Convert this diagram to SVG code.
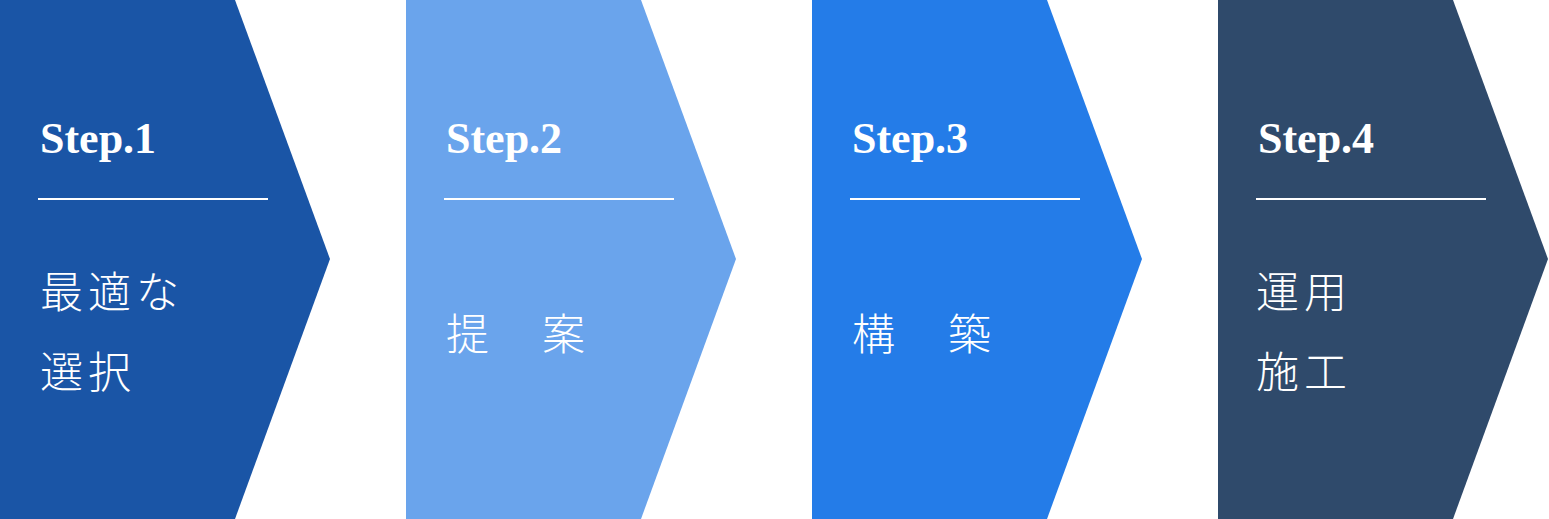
<svg xmlns="http://www.w3.org/2000/svg" width="1549" height="519" viewBox="0 0 1549 519">
<style>
.step{font-family:"Liberation Serif","DejaVu Serif",serif;font-weight:bold;font-size:44px;fill:#fff}
.jp{font-family:"Noto Sans CJK JP","Noto Sans CJK SC",sans-serif;font-weight:300;font-size:43px;fill:#fff;letter-spacing:5px}
.rule{stroke:#fff;stroke-width:2}
</style>
<rect width="1549" height="519" fill="#fff"/>
<g id="step1">
<polygon points="0,0 235,0 330,259 235,519 0,519" fill="#1A55A6"/>
<text class="step" x="40" y="153">Step.1</text>
<line class="rule" x1="38" y1="199" x2="268" y2="199"/>
<text class="jp" x="40" y="308">最適な</text>
<text class="jp" x="40" y="388">選択</text>
</g>
<g id="step2">
<polygon points="406,0 641,0 736,259 641,519 406,519" fill="#6AA4EC"/>
<text class="step" x="446" y="153">Step.2</text>
<line class="rule" x1="444" y1="199" x2="674" y2="199"/>
<text class="jp" x="446" y="350">提　案</text>
</g>
<g id="step3">
<polygon points="812,0 1047,0 1142,259 1047,519 812,519" fill="#247CE8"/>
<text class="step" x="852" y="153">Step.3</text>
<line class="rule" x1="850" y1="199" x2="1080" y2="199"/>
<text class="jp" x="852" y="350">構　築</text>
</g>
<g id="step4">
<polygon points="1218,0 1453,0 1548,259 1453,519 1218,519" fill="#2F4A6B"/>
<text class="step" x="1258" y="153">Step.4</text>
<line class="rule" x1="1256" y1="199" x2="1486" y2="199"/>
<text class="jp" x="1256" y="308">運用</text>
<text class="jp" x="1256" y="388">施工</text>
</g>
<g id="connectors"></g>
</svg>
